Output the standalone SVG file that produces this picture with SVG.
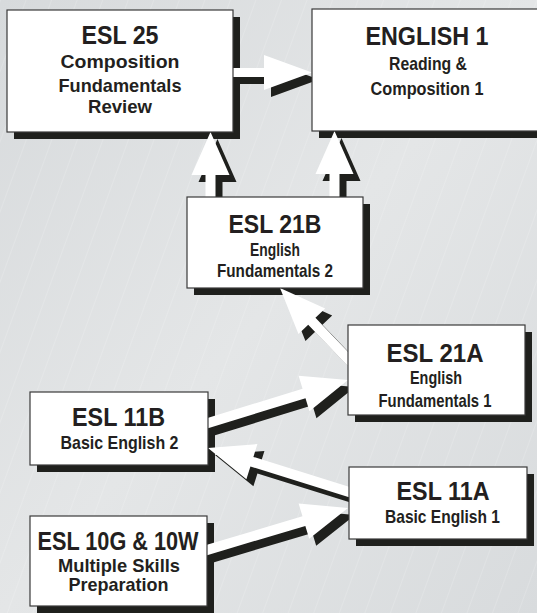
<svg xmlns="http://www.w3.org/2000/svg" width="537" height="613" viewBox="0 0 537 613">
<defs>
<linearGradient id="bg" x1="0" y1="0" x2="1" y2="1">
<stop offset="0" stop-color="#d7dadc"/>
<stop offset="0.5" stop-color="#e4e6e7"/>
<stop offset="1" stop-color="#d8dbdd"/>
</linearGradient>
<pattern id="hatch" patternUnits="userSpaceOnUse" width="24" height="40" patternTransform="rotate(20)">
<line x1="0" y1="0" x2="0" y2="40" stroke="#ffffff" stroke-opacity="0.45" stroke-width="0.7"/>
</pattern>
<style>
.box{fill:#ffffff;stroke:#3a3a3a;stroke-width:1.2}
.shadow{fill:#1f201d}
.arrow{fill:#ffffff}
.ashadow{fill:#1f201d}
text{font-family:"Liberation Sans",Arial,sans-serif;font-weight:bold;fill:#231f20;text-anchor:middle}
.t{font-size:26px}
.s{font-size:19px}
</style>
</defs>
<rect width="537" height="613" fill="url(#bg)"/>
<rect width="537" height="613" fill="url(#hatch)"/>

<g id="box-shadows">
<rect class="shadow" x="14" y="17" width="226" height="122"/>
<rect class="shadow" x="319" y="16" width="228" height="122"/>
<rect class="shadow" x="194" y="204" width="176" height="91"/>
<rect class="shadow" x="355" y="332" width="177" height="90"/>
<rect class="shadow" x="37" y="399" width="178" height="73"/>
<rect class="shadow" x="356" y="474" width="178" height="72"/>
<rect class="shadow" x="37" y="523" width="177" height="90"/>
</g>

<g id="connectors">
<g transform="translate(7,7)">
<polygon class="ashadow" points="225,77 264,77 264,90 312,72.5 264,55 264,68 225,68"/>
<polygon class="ashadow" points="215.5,205 215.5,175 229.5,175 210.5,132 191.5,175 205.5,175 205.5,205"/>
<polygon class="ashadow" points="339.5,205 339.5,174 353.5,174 334.5,131 315.5,174 329.5,174 329.5,205"/>
<polygon class="ashadow" points="358.5,362.8 315.43,317.76 325.18,308.42 280,288 298.46,334.02 308.21,324.68 351.3,369.7"/>
<polygon class="ashadow" points="199.91,430.72 305.5,398.29 309.46,411.2 348,380 298.6,375.82 302.56,388.73 196.97,421.16"/>
<polygon class="ashadow" points="360.04,490.21 253.4,456.93 257.42,444.04 208,448 246.4,479.36 250.42,466.47 357.06,499.75"/>
<polygon class="ashadow" points="198.85,557.65 305.34,525.92 309.19,538.86 348,508 298.63,503.4 302.48,516.34 195.99,548.07"/>
</g>
<polygon class="arrow" points="225,77 264,77 264,90 312,72.5 264,55 264,68 225,68"/>
<polygon class="arrow" points="215.5,205 215.5,175 229.5,175 210.5,132 191.5,175 205.5,175 205.5,205"/>
<polygon class="arrow" points="339.5,205 339.5,174 353.5,174 334.5,131 315.5,174 329.5,174 329.5,205"/>
<polygon class="arrow" points="358.5,362.8 315.43,317.76 325.18,308.42 280,288 298.46,334.02 308.21,324.68 351.3,369.7"/>
<polygon class="arrow" points="199.91,430.72 305.5,398.29 309.46,411.2 348,380 298.6,375.82 302.56,388.73 196.97,421.16"/>
<polygon class="arrow" points="360.04,490.21 253.4,456.93 257.42,444.04 208,448 246.4,479.36 250.42,466.47 357.06,499.75"/>
<polygon class="arrow" points="198.85,557.65 305.34,525.92 309.19,538.86 348,508 298.63,503.4 302.48,516.34 195.99,548.07"/>
</g>

<g id="esl25">
<rect class="box" x="7" y="10" width="226" height="122"/>
<text class="t" x="120" y="44" textLength="77" lengthAdjust="spacingAndGlyphs">ESL 25</text>
<text class="s" x="120" y="68" textLength="119" lengthAdjust="spacingAndGlyphs">Composition</text>
<text class="s" x="120" y="92" textLength="123" lengthAdjust="spacingAndGlyphs">Fundamentals</text>
<text class="s" x="120" y="113" textLength="64" lengthAdjust="spacingAndGlyphs">Review</text>
</g>

<g id="english1">
<rect class="box" x="312" y="9" width="228" height="122"/>
<text class="t" x="427" y="45" textLength="123" lengthAdjust="spacingAndGlyphs">ENGLISH 1</text>
<text class="s" x="428" y="70" textLength="78" lengthAdjust="spacingAndGlyphs">Reading &amp;</text>
<text class="s" x="427" y="94.5" textLength="113" lengthAdjust="spacingAndGlyphs">Composition 1</text>
</g>

<g id="esl21b">
<rect class="box" x="187" y="197" width="176" height="91"/>
<text class="t" x="275" y="233" textLength="93" lengthAdjust="spacingAndGlyphs">ESL 21B</text>
<text class="s" x="275" y="256" textLength="50" lengthAdjust="spacingAndGlyphs">English</text>
<text class="s" x="275" y="277" textLength="116" lengthAdjust="spacingAndGlyphs">Fundamentals 2</text>
</g>

<g id="esl21a">
<rect class="box" x="348" y="325" width="177" height="90"/>
<text class="t" x="435" y="362" textLength="97" lengthAdjust="spacingAndGlyphs">ESL 21A</text>
<text class="s" x="436" y="384" textLength="52" lengthAdjust="spacingAndGlyphs">English</text>
<text class="s" x="435" y="407" textLength="113" lengthAdjust="spacingAndGlyphs">Fundamentals 1</text>
</g>

<g id="esl11b">
<rect class="box" x="30" y="392" width="178" height="73"/>
<text class="t" x="118.5" y="426" textLength="93" lengthAdjust="spacingAndGlyphs">ESL 11B</text>
<text class="s" x="119.5" y="449" textLength="118" lengthAdjust="spacingAndGlyphs">Basic English 2</text>
</g>

<g id="esl11a">
<rect class="box" x="349" y="467" width="178" height="72"/>
<text class="t" x="443" y="500" textLength="93" lengthAdjust="spacingAndGlyphs">ESL 11A</text>
<text class="s" x="442.5" y="523" textLength="115" lengthAdjust="spacingAndGlyphs">Basic English 1</text>
</g>

<g id="esl10g10w">
<rect class="box" x="30" y="516" width="177" height="90"/>
<text class="t" x="118" y="550" textLength="161" lengthAdjust="spacingAndGlyphs">ESL 10G &amp; 10W</text>
<text class="s" x="119" y="572" textLength="122" lengthAdjust="spacingAndGlyphs">Multiple Skills</text>
<text class="s" x="118.5" y="591" textLength="100" lengthAdjust="spacingAndGlyphs">Preparation</text>
</g>
</svg>
